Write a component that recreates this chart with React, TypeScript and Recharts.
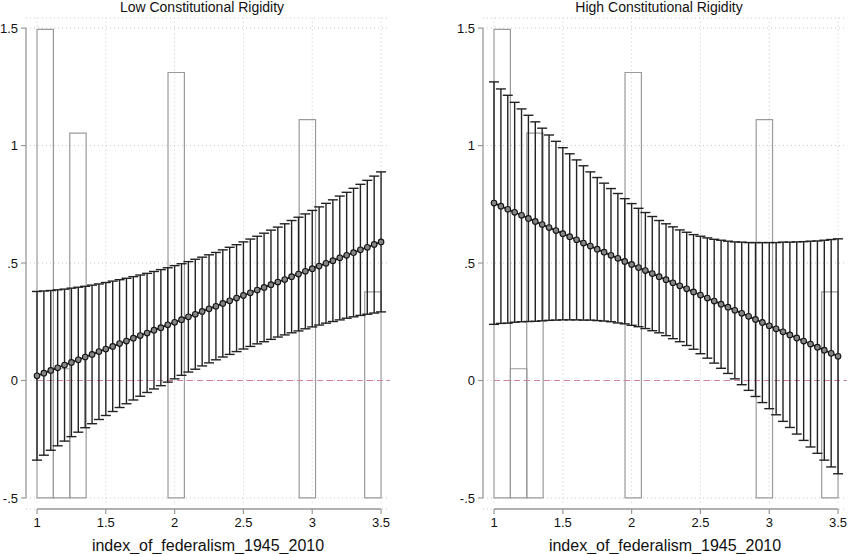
import React from 'react';
import {
  ComposedChart, Line, XAxis, YAxis, CartesianGrid, ReferenceLine, ReferenceArea, ErrorBar,
} from 'recharts';

const federalism = [1, 1.05, 1.1, 1.15, 1.2, 1.25, 1.3, 1.35, 1.4, 1.45, 1.5, 1.55, 1.6, 1.65, 1.7, 1.75, 1.8, 1.85, 1.9, 1.95, 2, 2.05, 2.1, 2.15, 2.2, 2.25, 2.3, 2.35, 2.4, 2.45, 2.5, 2.55, 2.6, 2.65, 2.7, 2.75, 2.8, 2.85, 2.9, 2.95, 3, 3.05, 3.1, 3.15, 3.2, 3.25, 3.3, 3.35, 3.4, 3.45, 3.5];

const lowEffect = [0.020, 0.031, 0.043, 0.054, 0.066, 0.077, 0.088, 0.100, 0.111, 0.123, 0.134, 0.145, 0.157, 0.168, 0.180, 0.191, 0.202, 0.214, 0.225, 0.237, 0.248, 0.259, 0.271, 0.282, 0.294, 0.305, 0.316, 0.328, 0.339, 0.351, 0.362, 0.373, 0.385, 0.396, 0.408, 0.419, 0.430, 0.442, 0.453, 0.465, 0.476, 0.487, 0.499, 0.510, 0.522, 0.533, 0.544, 0.556, 0.567, 0.579, 0.590];
const lowUpper = [0.379, 0.381, 0.383, 0.386, 0.389, 0.393, 0.397, 0.401, 0.406, 0.411, 0.417, 0.423, 0.429, 0.435, 0.442, 0.449, 0.456, 0.464, 0.472, 0.480, 0.489, 0.497, 0.506, 0.516, 0.525, 0.535, 0.545, 0.556, 0.567, 0.578, 0.590, 0.602, 0.614, 0.627, 0.640, 0.653, 0.667, 0.681, 0.695, 0.709, 0.724, 0.739, 0.754, 0.769, 0.785, 0.801, 0.818, 0.835, 0.852, 0.870, 0.888];
const lowLower = [-0.339, -0.318, -0.297, -0.278, -0.258, -0.239, -0.220, -0.201, -0.184, -0.166, -0.149, -0.132, -0.115, -0.099, -0.083, -0.067, -0.051, -0.036, -0.022, -0.007, 0.007, 0.022, 0.036, 0.048, 0.062, 0.075, 0.088, 0.100, 0.111, 0.123, 0.134, 0.145, 0.156, 0.165, 0.175, 0.185, 0.194, 0.203, 0.211, 0.220, 0.228, 0.236, 0.244, 0.251, 0.258, 0.265, 0.271, 0.277, 0.282, 0.287, 0.292];

const highEffect = [0.755, 0.742, 0.729, 0.716, 0.703, 0.690, 0.677, 0.664, 0.651, 0.638, 0.625, 0.612, 0.599, 0.585, 0.572, 0.559, 0.546, 0.533, 0.520, 0.507, 0.494, 0.481, 0.468, 0.455, 0.442, 0.429, 0.416, 0.403, 0.390, 0.377, 0.364, 0.351, 0.338, 0.325, 0.312, 0.299, 0.286, 0.273, 0.260, 0.247, 0.233, 0.220, 0.207, 0.194, 0.181, 0.168, 0.155, 0.142, 0.129, 0.116, 0.103];
const highUpper = [1.271, 1.241, 1.214, 1.184, 1.156, 1.129, 1.101, 1.074, 1.045, 1.018, 0.991, 0.965, 0.939, 0.914, 0.888, 0.864, 0.840, 0.817, 0.796, 0.774, 0.753, 0.733, 0.715, 0.698, 0.681, 0.667, 0.654, 0.641, 0.631, 0.621, 0.614, 0.607, 0.601, 0.597, 0.593, 0.590, 0.589, 0.587, 0.587, 0.587, 0.587, 0.587, 0.589, 0.589, 0.590, 0.591, 0.593, 0.594, 0.597, 0.600, 0.603];
const highLower = [0.239, 0.243, 0.244, 0.248, 0.250, 0.251, 0.252, 0.254, 0.256, 0.257, 0.258, 0.258, 0.258, 0.257, 0.257, 0.255, 0.253, 0.250, 0.245, 0.241, 0.235, 0.229, 0.221, 0.212, 0.203, 0.191, 0.178, 0.165, 0.149, 0.133, 0.114, 0.095, 0.074, 0.052, 0.030, 0.007, -0.018, -0.042, -0.068, -0.094, -0.120, -0.146, -0.174, -0.200, -0.228, -0.255, -0.283, -0.310, -0.339, -0.368, -0.397];

const binStart = [1, 1.119, 1.238, 1.952, 2.905, 3.381];
const binEnd = [1.119, 1.238, 1.357, 2.071, 3.024, 3.5];
const binTop = [1.495, 0.05, 1.053, 1.311, 1.11, 0.377];
const histBase = -0.5;

const xTicks = [1, 1.5, 2, 2.5, 3, 3.5];
const xTickLabels = ['1', '1.5', '2', '2.5', '3', '3.5'];
const yTicks = [-0.5, 0, 0.5, 1, 1.5];
const yTickLabels = ['-.5', '0', '.5', '1', '1.5'];

const X_DOMAIN: [number, number] = [0.92, 3.565];
const Y_DOMAIN: [number, number] = [-0.547, 1.543];

const FONT = '"Liberation Sans", Arial, Helvetica, sans-serif';

type Row = { x: number; b: number; lo: number; hi: number };

function buildRows(b: number[], lo: number[], hi: number[]): Row[] {
  return federalism.map((x, i) => ({ x, b: b[i], lo: lo[i], hi: hi[i] }));
}

const Dot = (props: any) => {
  const { cx, cy } = props;
  if (cx == null || cy == null) return null;
  return <circle cx={cx} cy={cy} r={2.8} fill="#858585" stroke="#151515" strokeWidth={1.1} />;
};

function Panel({ rows, title, left }: { rows: Row[]; title: string; left: number }) {
  return (
    <div style={{ position: 'absolute', left, top: 0, width: 401, height: 554 }}>
      <div
        style={{
          position: 'absolute', left: 0, top: 0, width: 404, textAlign: 'center',
          fontFamily: FONT, fontSize: 14, lineHeight: '14px', color: '#111', whiteSpace: 'nowrap',
        }}
      >
        {title}
      </div>
      <ComposedChart
        width={401}
        height={554}
        data={rows}
        margin={{ top: 18, right: 11, bottom: 0, left: 0 }}
      >
        <CartesianGrid vertical={false} stroke="#c8c8c8" strokeDasharray="1 3" />
        {xTicks.map((t) => (
          <ReferenceLine
            key={'vg' + t}
            segment={[{ x: t, y: -0.52 }, { x: t, y: Y_DOMAIN[1] }]}
            stroke="#c8c8c8"
            strokeDasharray="1 3"
            ifOverflow="visible"
          />
        ))}
        <XAxis
          type="number"
          dataKey="x"
          domain={X_DOMAIN}
          allowDataOverflow
          ticks={xTicks}
          tickFormatter={(v: number) => xTickLabels[xTicks.indexOf(v)] ?? String(v)}
          axisLine={false}
          tickLine={{ stroke: '#999', strokeWidth: 1.2 }}
          tickSize={5}
          tickMargin={4}
          height={45}
          tick={{ fontFamily: FONT, fontSize: 13, fill: '#111' }}
          label={{
            value: 'index_of_federalism_1945_2010', position: 'insideBottom', offset: 3,
            style: { fontFamily: FONT, fontSize: 16, fill: '#111' },
          }}
        />
        <YAxis
          type="number"
          domain={Y_DOMAIN}
          allowDataOverflow
          ticks={yTicks}
          tickFormatter={(v: number) => yTickLabels[yTicks.indexOf(v)] ?? String(v)}
          axisLine={false}
          tickLine={{ stroke: '#999', strokeWidth: 1.2 }}
          tickSize={5}
          tickMargin={3}
          width={26}
          tick={{ fontFamily: FONT, fontSize: 13, fill: '#111' }}
        />
        <ReferenceLine
          segment={[{ x: X_DOMAIN[0], y: -0.5 }, { x: X_DOMAIN[0], y: 1.5 }]}
          stroke="#999"
          strokeWidth={1.3}
          ifOverflow="visible"
        />
        <ReferenceLine
          segment={[{ x: 1, y: Y_DOMAIN[0] }, { x: 3.5, y: Y_DOMAIN[0] }]}
          stroke="#999"
          strokeWidth={1.3}
          ifOverflow="visible"
        />
        {binStart.map((s, i) => (
          <ReferenceArea
            key={'bin' + i}
            x1={s}
            x2={binEnd[i]}
            y1={histBase}
            y2={binTop[i]}
            fill="none"
            fillOpacity={0}
            stroke="#9a9a9a"
            strokeWidth={1.2}
            ifOverflow="visible"
          />
        ))}
        <ReferenceLine
          segment={[{ x: 1, y: 0 }, { x: X_DOMAIN[1], y: 0 }]}
          stroke="#d47f9c"
          strokeWidth={1.1}
          strokeDasharray="6 4"
          ifOverflow="visible"
        />
        <Line
          type="linear"
          dataKey="b"
          stroke="#1a1a1a"
          strokeWidth={1.7}
          dot={<Dot />}
          activeDot={false}
          isAnimationActive={false}
        >
          <ErrorBar
            dataKey={(d: Row) => [d.b - d.lo, d.hi - d.b]}
            direction="y"
            width={5}
            stroke="#222"
            strokeWidth={1.4}
            isAnimationActive={false}
          />
        </Line>
      </ComposedChart>
    </div>
  );
}

const lowRows = buildRows(lowEffect, lowLower, lowUpper);
const highRows = buildRows(highEffect, highLower, highUpper);

export default function App() {
  return (
    <div style={{ position: 'absolute', left: 0, top: 0, width: 865, height: 554, background: '#fff', overflow: 'hidden' }}>
      <Panel rows={lowRows} title="Low Constitutional Rigidity" left={0} />
      <Panel rows={highRows} title="High Constitutional Rigidity" left={457} />
    </div>
  );
}
